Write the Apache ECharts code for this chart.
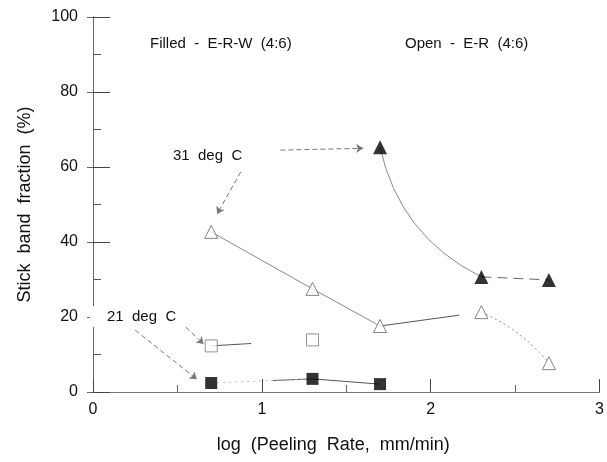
<!DOCTYPE html>
<html>
<head>
<meta charset="UTF-8">
<title>Stick band fraction</title>
<script src="https://cdn.jsdelivr.net/npm/echarts@6/dist/echarts.min.js"></script>
<style>
    body { margin: 0; padding: 0; background: #fff; }
    #chart { width: 607px; height: 462px; }
</style>
</head>
<body>
<div id="chart"></div>
<script>
// log(peeling rate) positions
var logRate = [0.7, 1.3, 1.7, 2.3, 2.7];
// open triangles: E-R (4:6), 31 deg C
var openTri = [42.7, 27.5, 17.6, 21.3, 7.7];
// filled triangles: E-R-W (4:6), 31 deg C
var filledTri = [null, null, 65.3, 30.7, 29.9];
// open squares: E-R (4:6), 21 deg C
var openSq = [12.3, 13.9, null, null, null];
// filled squares: E-R-W (4:6), 21 deg C
var filledSq = [2.4, 3.5, 2.1, null, null];

var yTicks = [0, 20, 40, 60, 80, 100];
var xTicks = [0, 1, 2, 3];

function pts(ys) {
    var out = [];
    for (var i = 0; i < logRate.length; i++) {
        if (ys[i] != null) out.push([logRate[i], ys[i]]);
    }
    return out;
}
function seg(ys, i, j) {
    return { coords: [[logRate[i], ys[i]], [logRate[j], ys[j]]] };
}

var font = '"Liberation Sans", Arial, sans-serif';
var grey = '#8a8a8a';

var chart = echarts.init(document.getElementById('chart'));
var option = {
    backgroundColor: '#fff',
    animation: false,
    grid: { left: 93, right: 3, top: 17, bottom: 70 },
    xAxis: [{
        type: 'value', min: 0, max: 3, interval: 1,
        name: 'log  (Peeling  Rate,  mm/min)',
        nameLocation: 'middle', nameGap: 44,
        nameTextStyle: { fontFamily: font, fontSize: 18, color: '#111', padding: [0, 26, 0, 0] },
        axisLine: { lineStyle: { color: '#444', width: 1 } },
        axisTick: { inside: true, length: 13, lineStyle: { color: '#444' } },
        minorTick: { show: true, splitNumber: 2, length: 7, lineStyle: { color: '#666' } },
        axisLabel: { fontFamily: font, fontSize: 16, color: '#111', margin: 10,
            formatter: function (v) { return xTicks.indexOf(v) >= 0 ? String(v) : ''; } },
        splitLine: { show: false }
    }, {
        type: 'value', min: 0, max: 3, position: 'top',
        axisLine: { lineStyle: { color: '#777', width: 1 } },
        axisTick: { show: false }, axisLabel: { show: false }, splitLine: { show: false }
    }],
    yAxis: [{
        type: 'value', min: 0, max: 100, interval: 20,
        name: 'Stick  band  fraction  (%)',
        nameLocation: 'middle', nameGap: 59,
        nameTextStyle: { fontFamily: font, fontSize: 18, color: '#111' },
        axisLine: { lineStyle: { color: '#444', width: 1 } },
        axisTick: { inside: true, length: 17, lineStyle: { color: '#444' } },
        minorTick: { show: true, splitNumber: 2, length: 8, lineStyle: { color: '#555' } },
        axisLabel: { fontFamily: font, fontSize: 16, color: '#111', margin: 15,
            formatter: function (v) { return yTicks.indexOf(v) >= 0 ? String(v) : ''; } },
        splitLine: { show: false }
    }, {
        type: 'value', min: 0, max: 100, interval: 20, position: 'right',
        axisLine: { show: true, lineStyle: { color: '#666', width: 1 } },
        axisTick: { inside: true, length: 6, lineStyle: { color: '#666' } },
        axisLabel: { show: false }, splitLine: { show: false }
    }],
    graphic: [
        { type: 'text', left: 150, top: 36, style: { text: 'Filled  -  E-R-W  (4:6)', font: '15px ' + font, fill: '#111' } },
        { type: 'text', left: 405, top: 36, style: { text: 'Open  -  E-R  (4:6)', font: '15px ' + font, fill: '#111' } },
        { type: 'text', left: 173, top: 148, style: { text: '31  deg  C', font: '15px ' + font, fill: '#111' } },
        { type: 'text', left: 90, top: 306, z: 10, style: { text: '21  deg  C', font: '15px ' + font, fill: '#111',
            backgroundColor: '#fff', padding: [3, 2, 3, 17] } }
    ],
    series: [
        {
            // solid connectors
            type: 'lines', coordinateSystem: 'cartesian2d', silent: true, z: 1,
            lineStyle: { color: grey, width: 1, opacity: 1 },
            data: [
                Object.assign(seg(filledTri, 2, 3), { lineStyle: { curveness: -0.24 } }),
                seg(openTri, 0, 1),
                seg(openTri, 1, 2)
            ]
        },
        {
            // partial connectors that stop short of the next point
            type: 'lines', coordinateSystem: 'cartesian2d', silent: true, z: 1,
            lineStyle: { color: '#555', width: 1, type: [80, 200], opacity: 1 },
            data: [seg(openTri, 2, 3), seg(filledSq, 1, 2)]
        },
        {
            type: 'lines', coordinateSystem: 'cartesian2d', silent: true, z: 1,
            lineStyle: { color: '#555', width: 1, type: [40, 200], opacity: 1 },
            data: [seg(openSq, 0, 1), seg(filledSq, 1, 0)]
        },
        {
            type: 'lines', coordinateSystem: 'cartesian2d', silent: true, z: 1,
            lineStyle: { color: '#bbb', width: 1, type: [2, 4], opacity: 1 },
            data: [seg(filledSq, 0, 1)]
        },
        {
            // dashed / dotted connectors
            type: 'lines', coordinateSystem: 'cartesian2d', silent: true, z: 1,
            lineStyle: { color: '#666', width: 1, type: [10, 6], opacity: 1 },
            data: [seg(filledTri, 3, 4)]
        },
        {
            type: 'lines', coordinateSystem: 'cartesian2d', silent: true, z: 1,
            lineStyle: { color: grey, width: 1, type: [2, 3], opacity: 1 },
            data: [Object.assign(seg(openTri, 3, 4), { lineStyle: { curveness: 0.12 } })]
        },
        {
            // annotation arrows
            type: 'lines', coordinateSystem: 'cartesian2d', silent: true, z: 1,
            symbol: ['none', 'arrow'], symbolSize: 7,
            lineStyle: { color: '#777', width: 1, type: [5, 3], opacity: 1 },
            data: [
                { coords: [[1.11, 64.5], [1.60, 65.0]] },
                { coords: [[0.875, 58.7], [0.735, 47.5]] },
                { coords: [[0.55, 17.3], [0.655, 12.8]] },
                { coords: [[0.25, 16.5], [0.615, 3.4]] }
            ]
        },
        {
            name: 'E-R-W 31', type: 'scatter', data: pts(filledTri),
            symbol: 'triangle', symbolSize: 14, z: 5,
            itemStyle: { color: '#000' }
        },
        {
            name: 'E-R 31', type: 'scatter', data: pts(openTri),
            symbol: 'triangle', symbolSize: 13, z: 5,
            itemStyle: { color: '#fff', borderColor: '#666', borderWidth: 1 }
        },
        {
            name: 'E-R 21', type: 'scatter', data: pts(openSq),
            symbol: 'rect', symbolSize: 12, z: 5,
            itemStyle: { color: '#fff', borderColor: '#777', borderWidth: 1 }
        },
        {
            name: 'E-R-W 21', type: 'scatter', data: pts(filledSq),
            symbol: 'rect', symbolSize: 12, z: 5,
            itemStyle: { color: '#000' }
        }
    ]
};
chart.setOption(option);
</script>
</body>
</html>
